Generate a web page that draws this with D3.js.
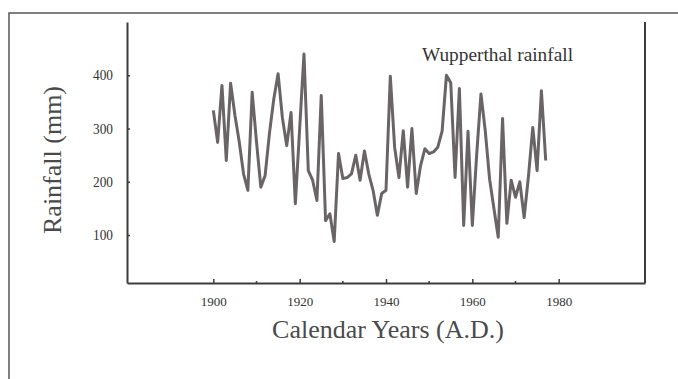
<!DOCTYPE html>
<html>
<head>
<meta charset="utf-8">
<script src="https://cdn.jsdelivr.net/npm/d3@7"></script>
<style>
  body { margin: 0; background: #fff; }
  svg { display: block; }
</style>
</head>
<body>
<svg id="chart"></svg>
<script>
// yearly rainfall
const years = [
  1900, 1901, 1902, 1903, 1904, 1905, 1906, 1907, 1908, 1909,
  1910, 1911, 1912, 1913, 1914, 1915, 1916, 1917, 1918, 1919,
  1920, 1921, 1922, 1923, 1924, 1925, 1926, 1927, 1928, 1929,
  1930, 1931, 1932, 1933, 1934, 1935, 1936, 1937, 1938, 1939,
  1940, 1941, 1942, 1943, 1944, 1945, 1946, 1947, 1948, 1949,
  1950, 1951, 1952, 1953, 1954, 1955, 1956, 1957, 1958, 1959,
  1960, 1961, 1962, 1963, 1964, 1965, 1966, 1967, 1968, 1969,
  1970, 1971, 1972, 1973, 1974, 1975, 1976, 1977
];
const rainfall = [
  334, 274, 381, 240, 385, 325, 275, 215, 184, 368,
  275, 190, 212, 291, 355, 403, 320, 268, 330, 159,
  300, 440, 221, 203, 165, 362, 127, 140, 88, 253,
  206, 208, 215, 250, 203, 258, 215, 184, 137, 178,
  184, 398, 265, 208, 296, 190, 300, 178, 230, 262,
  253, 256, 265, 295, 400, 386, 208, 375, 118, 295,
  118, 250, 365, 295, 205, 150, 96, 319, 122, 203,
  171, 200, 133, 210, 302, 221, 371, 240
];
const xMajorTicks = [1900, 1920, 1940, 1960, 1980];
const xMinorTicks = [1910, 1930, 1950, 1970];
const yTicks = [100, 200, 300, 400];

const width = 678;
const height = 379;
const margin = { top: 22, right: 30, bottom: 96, left: 127 };
const serif = "'Liberation Serif', 'Times New Roman', serif";

const svg = d3.select("#chart")
  .attr("width", width)
  .attr("height", height)
  .style("background", "white");

// outer frame of the scanned figure
svg.append("rect")
  .attr("x", 9)
  .attr("y", 13)
  .attr("width", 700)
  .attr("height", 400)
  .attr("fill", "none")
  .attr("stroke", "#555")
  .attr("stroke-width", 1.5);

const xScale = d3.scaleLinear()
  .domain([1880, 2000])
  .range([margin.left, width - margin.right - 3]);

const yScale = d3.scaleLinear()
  .domain([10, 500])
  .range([height - margin.bottom, margin.top]);

// y axis (ticks point inwards)
const yAxis = d3.axisLeft(yScale)
  .tickValues(yTicks)
  .tickSize(-3)
  .tickSizeOuter(0)
  .tickPadding(14)
  .tickFormat(d3.format("d"));

const yAxisGroup = svg.append("g")
  .attr("transform", `translate(${margin.left},0)`)
  .style("color", "#3c3c3c");
yAxis(yAxisGroup);

// x axis
const xAxis = d3.axisBottom(xScale)
  .tickValues(xMajorTicks)
  .tickSize(-4)
  .tickSizeOuter(0)
  .tickPadding(14)
  .tickFormat(d3.format("d"));

const xAxisGroup = svg.append("g")
  .attr("transform", `translate(0,${yScale(10)})`)
  .style("color", "#3c3c3c");
xAxis(xAxisGroup);

// minor ticks every 10 years
xAxisGroup.selectAll("line.minor")
  .data(xMinorTicks)
  .enter()
  .append("line")
  .attr("class", "minor")
  .attr("x1", d => xScale(d))
  .attr("x2", d => xScale(d))
  .attr("y1", 0)
  .attr("y2", -2)
  .attr("stroke", "#3c3c3c")
  .attr("stroke-width", 1.5);

svg.selectAll(".domain").attr("stroke-width", 2);
svg.selectAll(".tick line").attr("stroke-width", 1.5);

yAxisGroup.selectAll(".tick text")
  .attr("textLength", 20)
  .attr("lengthAdjust", "spacingAndGlyphs")
  .style("font-family", serif)
  .style("font-size", "14px")
  .style("fill", "#333");

xAxisGroup.selectAll(".tick text")
  .style("font-family", serif)
  .style("font-size", "13px")
  .style("fill", "#333");

// right frame line
svg.append("line")
  .attr("x1", xScale(2000))
  .attr("x2", xScale(2000))
  .attr("y1", yScale(500))
  .attr("y2", yScale(10))
  .attr("stroke", "#3c3c3c")
  .attr("stroke-width", 2);

// rainfall line
const line = d3.line()
  .x((d, i) => xScale(years[i]))
  .y(d => yScale(d));

svg.append("path")
  .datum(rainfall)
  .attr("d", line)
  .attr("fill", "none")
  .attr("stroke", "#6a6467")
  .attr("stroke-width", 3)
  .attr("stroke-linejoin", "round");

// series label
svg.append("text")
  .attr("x", 422)
  .attr("y", 61)
  .attr("textLength", 151)
  .attr("lengthAdjust", "spacingAndGlyphs")
  .style("font-family", serif)
  .style("font-size", "18px")
  .style("fill", "#333")
  .text("Wupperthal rainfall");

// axis titles
svg.append("text")
  .attr("x", 388)
  .attr("y", 338)
  .attr("text-anchor", "middle")
  .style("font-family", serif)
  .style("font-size", "26px")
  .style("fill", "#4a4a4a")
  .text("Calendar Years (A.D.)");

svg.append("text")
  .attr("transform", "translate(61,160) rotate(-90)")
  .attr("text-anchor", "middle")
  .style("font-family", serif)
  .style("font-size", "26px")
  .style("fill", "#4a4a4a")
  .text("Rainfall (mm)");
</script>
</body>
</html>
